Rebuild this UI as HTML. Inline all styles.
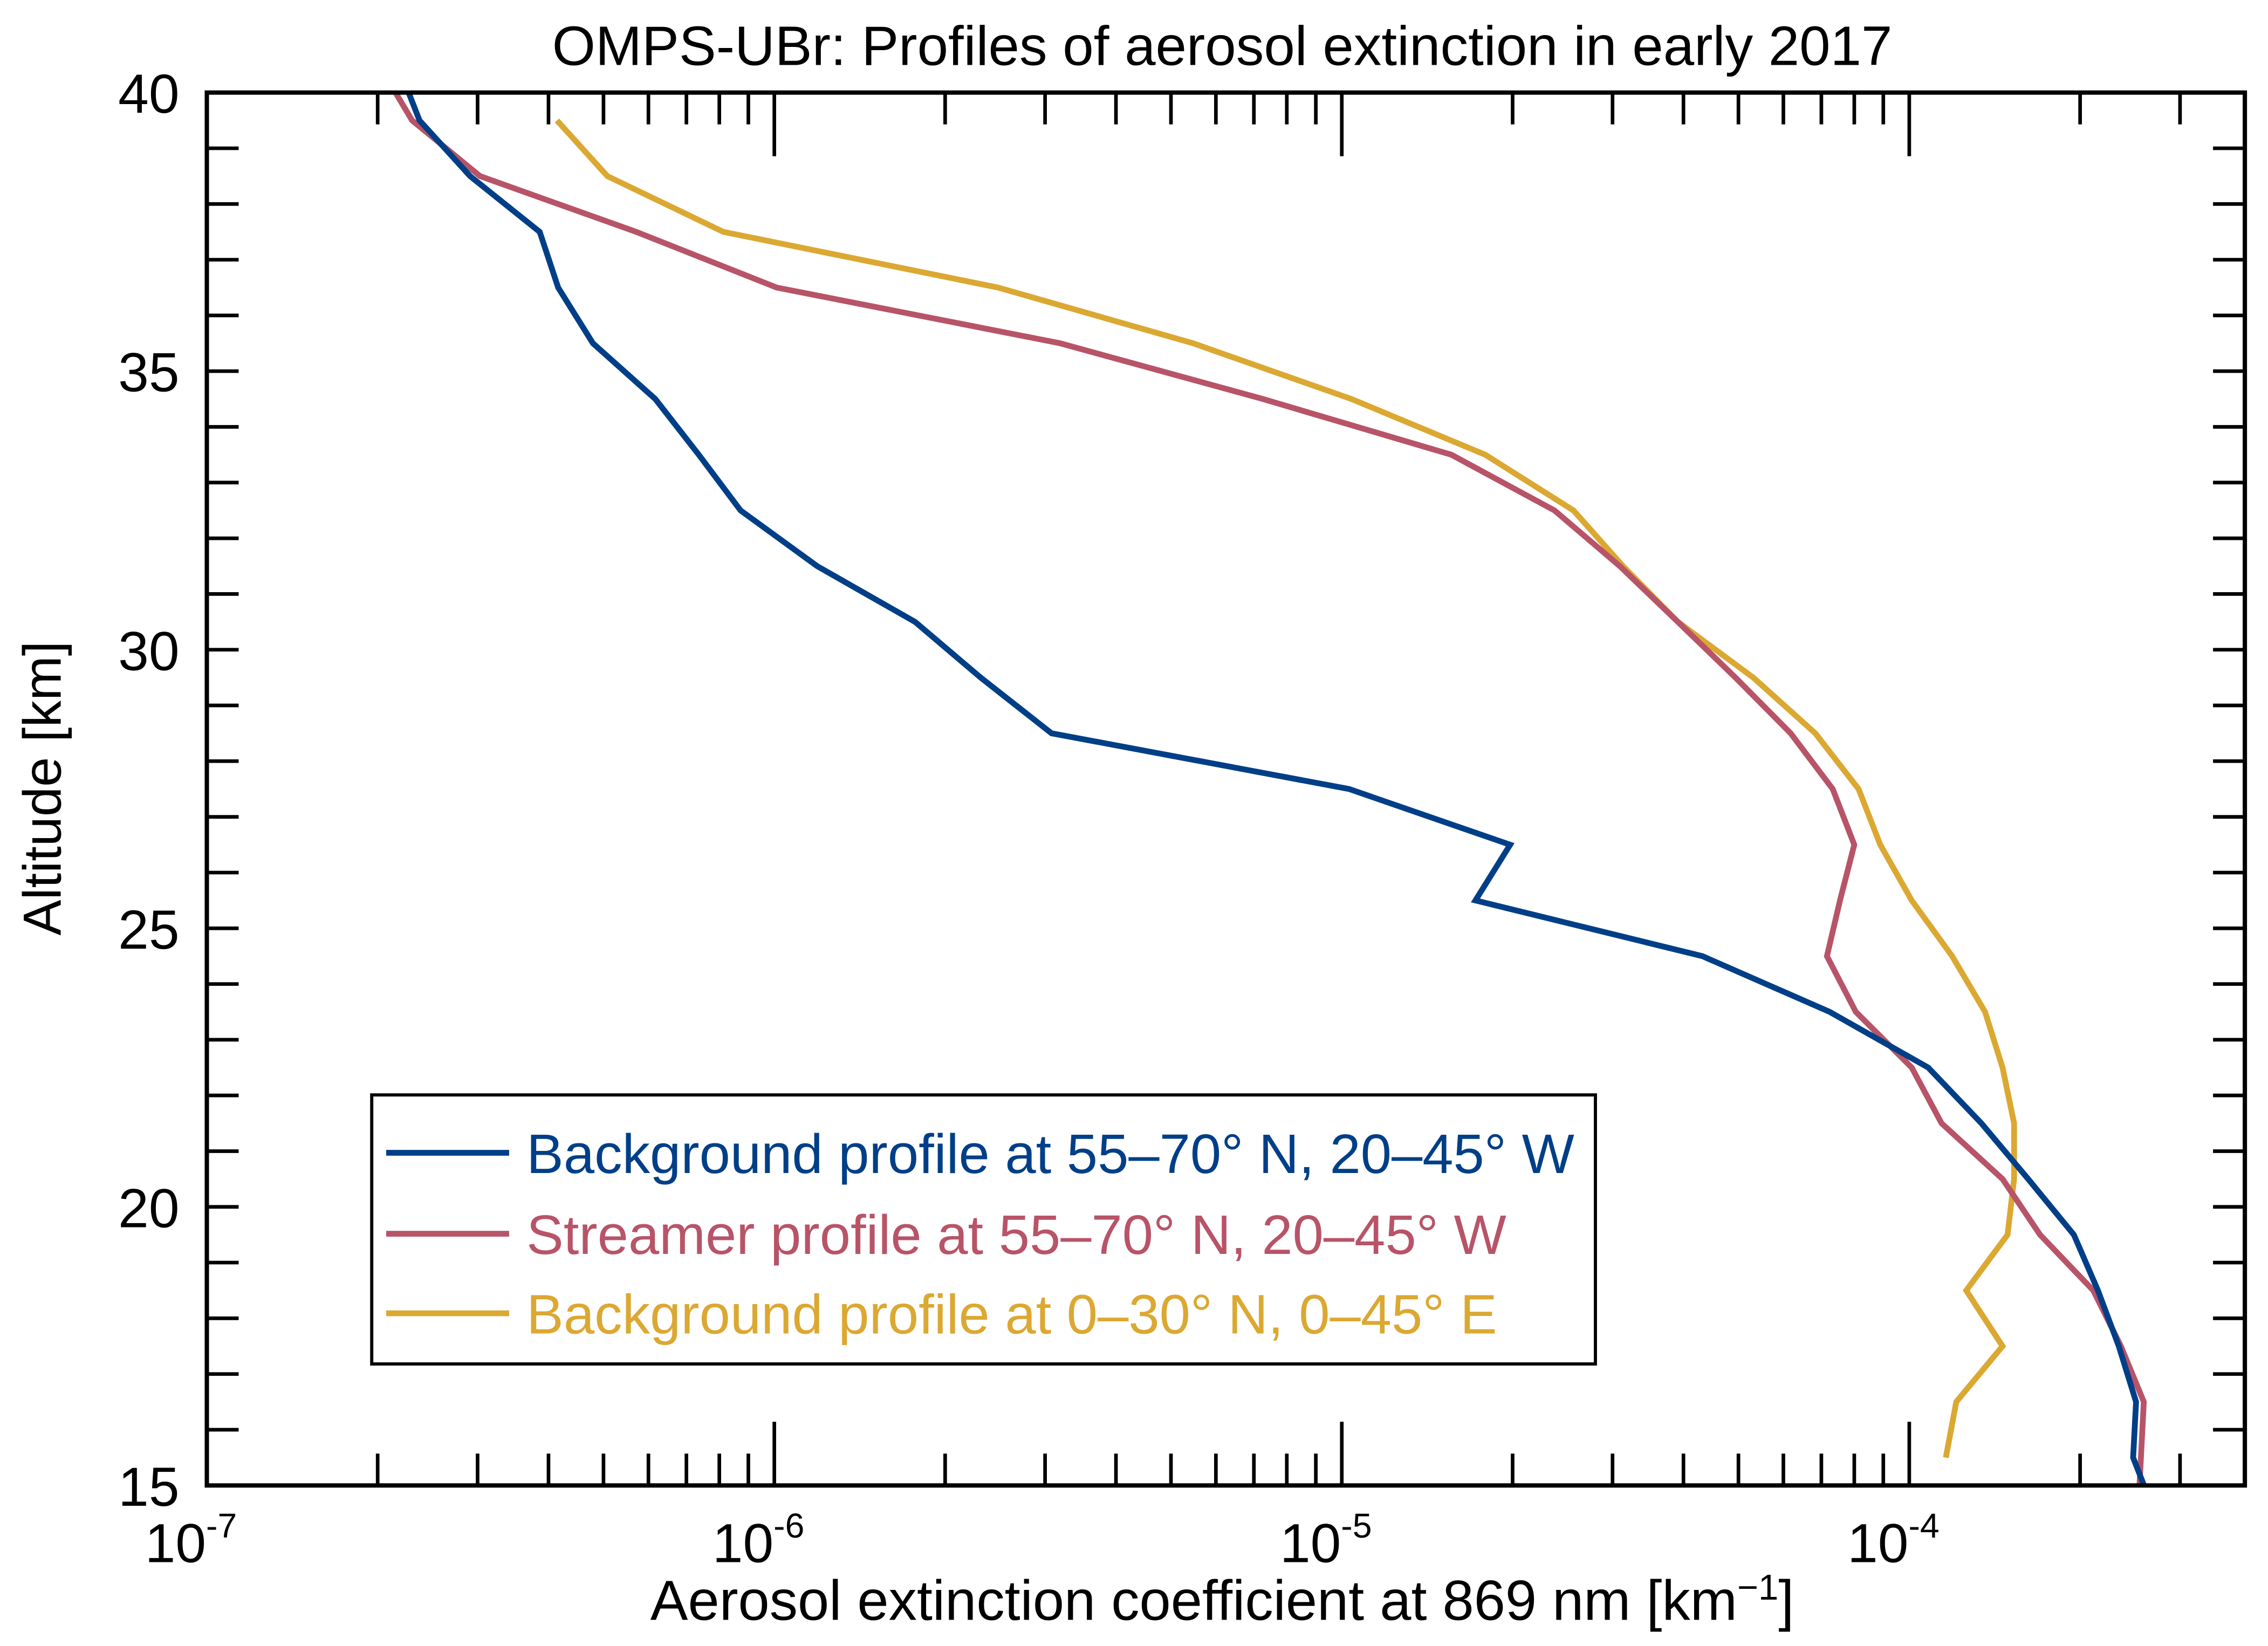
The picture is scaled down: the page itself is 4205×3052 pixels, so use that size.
<!DOCTYPE html>
<html><head><meta charset="utf-8"><style>html,body{margin:0;padding:0;background:#fff}svg{display:block}text{font-family:"Liberation Sans",Arial,sans-serif;fill:#000}</style></head>
<body>
<svg id="chart" width="4205" height="3052" viewBox="0 0 1568 1138" preserveAspectRatio="none" xmlns="http://www.w3.org/2000/svg">
<defs><clipPath id="plotclip"><rect x="143" y="64" width="1409" height="963"/></clipPath></defs>
<text x="845" y="45" font-size="38.5" text-anchor="middle">OMPS-UBr: Profiles of aerosol extinction in early 2017</text>
<text transform="translate(42,545) rotate(-90)" font-size="37" text-anchor="middle">Altitude [km]</text>
<text x="845" y="1120" font-size="39" text-anchor="middle">Aerosol extinction coefficient at 869 nm [km<tspan dy="-14" font-size="25">−1</tspan><tspan dy="14">]</tspan></text>
<g id="ticks"></g>
<g id="series" clip-path="url(#plotclip)"></g>
<rect x="143" y="64" width="1409" height="963" fill="none" stroke="#000" stroke-width="3"/>
<g>
<rect x="257" y="757" width="846" height="186" fill="#fff" stroke="#000" stroke-width="2.2"/>
<line x1="267" y1="797" x2="352" y2="797" stroke="#003f87" stroke-width="4"/>
<text x="364" y="811" font-size="38.4" style="fill:#003f87">Background profile at 55–70° N, 20–45° W</text>
<line x1="267" y1="853" x2="352" y2="853" stroke="#b85468" stroke-width="4"/>
<text x="364" y="867" font-size="38.4" style="fill:#b85468">Streamer profile at 55–70° N, 20–45° W</text>
<line x1="267" y1="908" x2="352" y2="908" stroke="#dba832" stroke-width="4"/>
<text x="364" y="922" font-size="38.4" style="fill:#dba832">Background profile at 0–30° N, 0–45° E</text>
</g>
</svg>
<script>
const altitudes = [40.5,39.5,38.5,37.5,36.5,35.5,34.5,33.5,32.5,31.5,30.5,29.5,28.5,27.5,26.5,25.5,24.5,23.5,22.5,21.5,20.5,19.5,18.5,17.5,16.5,15.5,14.5];
const blueValues = [2.17e-7,2.37e-7,2.91e-7,3.86e-7,4.16e-7,4.79e-7,6.17e-7,7.36e-7,8.72e-7,1.19e-6,1.77e-6,2.31e-6,3.08e-6,1.03e-5,1.98e-5,1.72e-5,4.32e-5,7.24e-5,1.08e-4,1.34e-4,1.62e-4,1.95e-4,2.15e-4,2.34e-4,2.51e-4,2.48e-4,2.71e-4];
const redValues = [2.01e-7,2.30e-7,3.03e-7,5.71e-7,1.01e-6,3.19e-6,7.26e-6,1.56e-5,2.37e-5,3.09e-5,3.91e-5,4.94e-5,6.18e-5,7.33e-5,8.00e-5,7.55e-5,7.16e-5,8.05e-5,1.01e-4,1.14e-4,1.46e-4,1.70e-4,2.11e-4,2.36e-4,2.59e-4,2.56e-4,2.53e-4];
const yellowAltitudes = [39.5,38.5,37.5,36.5,35.5,34.5,33.5,32.5,31.5,30.5,29.5,28.5,27.5,26.5,25.5,24.5,23.5,22.5,21.5,20.5,19.5,18.5,17.5,16.5,15.5];
const yellowValues = [4.14e-7,5.08e-7,8.13e-7,2.48e-6,5.47e-6,1.04e-5,1.79e-5,2.56e-5,3.13e-5,3.91e-5,5.31e-5,6.83e-5,8.14e-5,8.89e-5,1.01e-4,1.19e-4,1.36e-4,1.46e-4,1.53e-4,1.53e-4,1.49e-4,1.26e-4,1.46e-4,1.21e-4,1.16e-4];
const xDecades = [-7,-6,-5,-4];
const yTickLabels = [15,20,25,30,35,40];

const NS = "http://www.w3.org/2000/svg";
const X0=143, X1=1552, Y0=1027, Y1=64, DEC=392.33;
function xs(v){ return X0 + (Math.log10(v)+7)*DEC; }
function ys(a){ return Y0 - (a-15)*(Y0-Y1)/25; }
function mk(tag, attrs, parent){ const e=document.createElementNS(NS,tag); for(const k in attrs) e.setAttribute(k,attrs[k]); parent.appendChild(e); return e; }

const ticks=document.getElementById('ticks');
for(let d=-7; d<=-4; d++){
  for(let m=1; m<=9; m++){
    const v=m*Math.pow(10,d); const x=xs(v);
    if(x>X1) continue;
    const L = m===1?44:22;
    const t1=mk('line',{x1:x,y1:Y0,x2:x,y2:Y0-L,stroke:'#000','stroke-width':2.5},ticks);
    
    
    const t2=mk('line',{x1:x,y1:Y1,x2:x,y2:Y1+L,stroke:'#000','stroke-width':2.5},ticks);
    
    
  }
}
xDecades.forEach(d=>{
  const x=xs(Math.pow(10,d));
  const t=mk('text',{x:x-11,y:1080,'font-size':38,'text-anchor':'middle'},ticks);
  
  
  t.textContent='10';
  const s=mk('tspan',{dy:-17,'font-size':24},t);
  s.textContent=String(d);
});
for(let a=15;a<=40;a++){
  const y=ys(a);
  const t1=mk('line',{x1:X0,y1:y,x2:X0+22,y2:y,stroke:'#000','stroke-width':2.5},ticks);
  
  
  const t2=mk('line',{x1:X1,y1:y,x2:X1-22,y2:y,stroke:'#000','stroke-width':2.5},ticks);
  
  
}
yTickLabels.forEach(a=>{
  const t=mk('text',{x:124,y:ys(a)+14,'font-size':38,'text-anchor':'end'},ticks);
  
  
  t.textContent=String(a);
});
const series=document.getElementById('series');
function drawLine(alts, vals, color, name){
  const pts=alts.map((a,i)=>xs(vals[i]).toFixed(2)+','+ys(a).toFixed(2)).join(' ');
  const p=mk('polyline',{points:pts,fill:'none',stroke:color,'stroke-width':4,'stroke-linejoin':'miter'},series);
  
  
}
drawLine(yellowAltitudes, yellowValues, '#dba832', 'yellow-profile-line');
drawLine(altitudes, redValues, '#b85468', 'red-profile-line');
drawLine(altitudes, blueValues, '#003f87', 'blue-profile-line');
</script>
</body></html>
